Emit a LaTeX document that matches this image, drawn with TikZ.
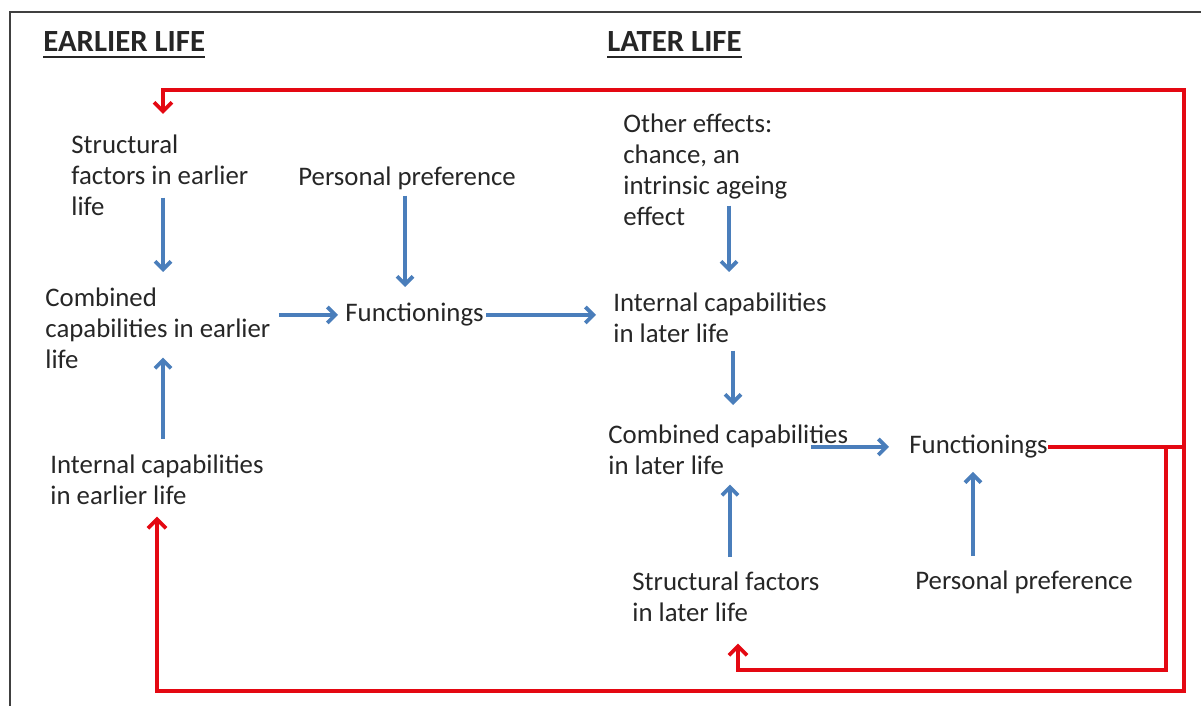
\documentclass[tikz,border=0pt]{standalone}
\usepackage{fontspec}
\setmainfont{Carlito}
\usetikzlibrary{arrows.meta}
\definecolor{arrowblue}{RGB}{74,126,187}
\definecolor{backred}{RGB}{228,8,18}
\definecolor{textgrey}{RGB}{38,38,38}
\begin{document}
\begin{tikzpicture}[x=0.5pt,y=-0.5pt,
    font=\fontsize{13.4}{15.5}\selectfont,
    every node/.style={inner sep=0pt,text=textgrey,align=left,anchor=north west},
    heading/.style={anchor=base west,font=\fontsize{15.4}{18}\selectfont\bfseries},
    blue arrow/.style={draw=arrowblue,line width=1.9pt,-{Straight Barb[length=4pt,width=8pt]}},
    red arrow/.style={draw=backred,line width=1.9pt,-{Straight Barb[length=4.5pt,width=9pt]}}]
    \useasboundingbox (0,0) rectangle (1201,706);
    \draw[black!75,line width=0.8pt] (10,706) -- (10,12) -- (1201,12);

    % Headings
    \node[heading] (earlier) at (43,52) {EARLIER LIFE};
    \node[heading] (later) at (607,52) {LATER LIFE};
    \draw[textgrey,line width=1.3pt] ([yshift=-2.6pt]earlier.base west) -- ([yshift=-2.6pt]earlier.base east);
    \draw[textgrey,line width=1.3pt] ([yshift=-2.6pt]later.base west) -- ([yshift=-2.6pt]later.base east);

    % Nodes
    \node (structE) at (71,134) {Structural\\factors in earlier\\life};
    \node (prefE) at (298,166) {Personal preference};
    \node (combE) at (45,287) {Combined\\capabilities in earlier\\life};
    \node (funcE) at (345,303) {Functionings};
    \node (intE) at (50,454) {Internal capabilities\\in earlier life};
    \node (other) at (623,113) {Other effects:\\chance, an\\intrinsic ageing\\effect};
    \node (intL) at (613,292) {Internal capabilities\\in later life};
    \node (combL) at (608,424) {Combined capabilities\\in later life};
    \node (funcL) at (909,435) {Functionings};
    \node (structL) at (632,571) {Structural factors\\in later life};
    \node (prefL) at (915,570) {Personal preference};

    % Arrows
    \draw[blue arrow,shorten <=-9pt,shorten >=7.5pt] (structE.south -| 163,0) -- (combE.north -| 163,0);
    \draw[blue arrow,shorten <=3pt,shorten >=8pt] (prefE.south -| 405,0) -- (funcE.north -| 405,0);
    \draw[blue arrow,shorten <=4pt,shorten >=3.5pt] (combE.east |- funcE.west) -- (funcE.west);
    \draw[blue arrow,shorten <=1pt,shorten >=8.5pt] (funcE.east) -- (funcE.east -| intL.west);
    \draw[blue arrow,shorten <=7.5pt,shorten >=-5.5pt] (intE.north -| 163,0) -- (combE.south -| 163,0);
    \draw[blue arrow,shorten <=-10pt,shorten >=10pt] (other.south -| 729,0) -- (intL.north -| 729,0);
    \draw[blue arrow,shorten <=4pt,shorten >=9.5pt] (intL.south -| 733,0) -- (combL.north -| 733,0);
    \draw[blue arrow,shorten <=-19pt,shorten >=10pt] (combL.east |- funcL.west) -- (funcL.west);
    \draw[blue arrow,shorten <=7pt,shorten >=5pt] (structL.north -| 730,0) -- (combL.south -| 730,0);
    \draw[blue arrow,shorten <=7pt,shorten >=6.5pt] (prefL.north -| 973,0) -- (funcL.south -| 973,0);

    % Feedback to earlier life
    \draw[red arrow,shorten >=10pt] (funcL.east) -- (funcL.east -| 1184,0) |- (163,90) -- (structE.north -| 163,0);
    \draw[red arrow,shorten >=11pt] (funcL.east -| 1166,0) |- (738,670) -- (structL.south -| 738,0);
    \draw[red arrow,shorten >=6pt] (funcL.east -| 1184,0) |- (157,691) -- (intE.south -| 157,0);
\end{tikzpicture}
\end{document}
